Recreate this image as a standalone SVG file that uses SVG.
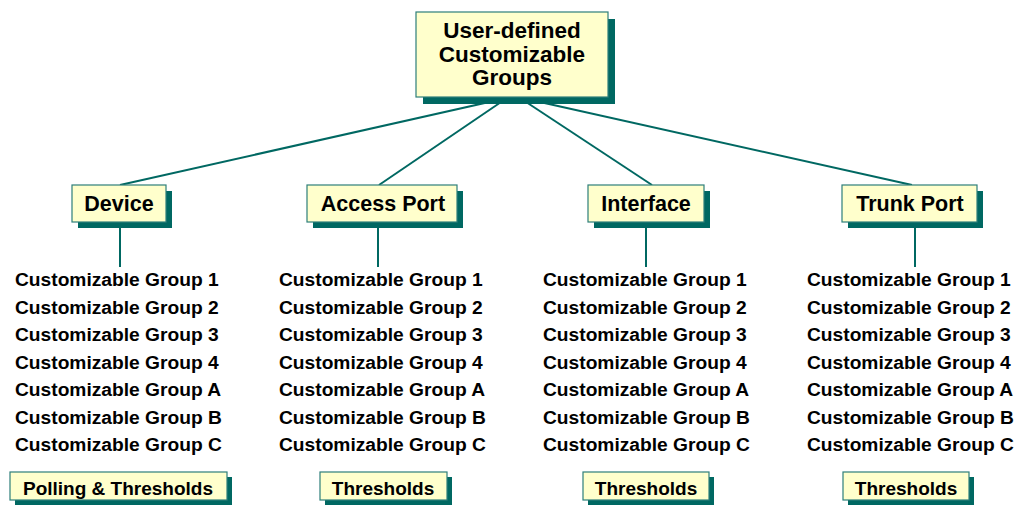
<svg xmlns="http://www.w3.org/2000/svg" width="1015" height="506" viewBox="0 0 1015 506">
  <style>
    .shadow { fill: #006862; }
    .box { fill: #FFFFCC; stroke: #2E7F7A; stroke-width: 1.2; }
    .lbl { font-family: "Liberation Sans", Arial, sans-serif; font-weight: bold; fill: #000; text-anchor: middle; }
    .title { font-size: 22.5px; }
    .cat { font-size: 21.5px; }
    .tag { font-size: 19px; }
    .list { font-family: "Liberation Sans", Arial, sans-serif; font-weight: bold; font-size: 19.2px; fill: #000; }
    .conn { stroke: #006862; stroke-width: 2; fill: none; }
  </style>
  <rect width="1015" height="506" fill="#ffffff"/>

  <!-- connectors -->
  <g id="connectors">
    <line class="conn" x1="507" y1="98" x2="120" y2="185"/>
    <line class="conn" x1="507" y1="98" x2="379" y2="185"/>
    <line class="conn" x1="520" y1="98" x2="652" y2="185"/>
    <line class="conn" x1="522" y1="98" x2="912" y2="185"/>
    <line class="conn" x1="120" y1="228" x2="120" y2="267"/>
    <line class="conn" x1="378" y1="228" x2="378" y2="267"/>
    <line class="conn" x1="646" y1="228" x2="646" y2="267"/>
    <line class="conn" x1="915" y1="228" x2="915" y2="267"/>
  </g>

  <!-- root -->
  <g id="root">
    <rect class="shadow" x="423" y="19" width="192" height="85"/>
    <rect class="box" x="416" y="12" width="192" height="85"/>
    <text class="lbl title" x="512" y="38">User-defined</text>
    <text class="lbl title" x="512" y="61.5">Customizable</text>
    <text class="lbl title" x="512" y="85">Groups</text>
  </g>

  <!-- categories -->
  <g id="device">
    <rect class="shadow" x="78" y="191" width="94" height="37"/>
    <rect class="box" x="72" y="185" width="94" height="37"/>
    <text class="lbl cat" x="119" y="211">Device</text>
  </g>
  <g id="access-port">
    <rect class="shadow" x="313" y="191" width="150" height="37"/>
    <rect class="box" x="307" y="185" width="150" height="37"/>
    <text class="lbl cat" x="383" y="211">Access Port</text>
  </g>
  <g id="interface">
    <rect class="shadow" x="594" y="191" width="116" height="37"/>
    <rect class="box" x="588" y="185" width="116" height="37"/>
    <text class="lbl cat" x="646" y="211">Interface</text>
  </g>
  <g id="trunk-port">
    <rect class="shadow" x="848" y="191" width="135" height="37"/>
    <rect class="box" x="842" y="185" width="135" height="37"/>
    <text class="lbl cat" x="910" y="211">Trunk Port</text>
  </g>

  <!-- group lists -->
  <g id="device-groups" class="list">
    <text x="15" y="286">Customizable Group 1</text>
    <text x="15" y="313.5">Customizable Group 2</text>
    <text x="15" y="341">Customizable Group 3</text>
    <text x="15" y="368.5">Customizable Group 4</text>
    <text x="15" y="396">Customizable Group A</text>
    <text x="15" y="423.5">Customizable Group B</text>
    <text x="15" y="451">Customizable Group C</text>
  </g>
  <g id="access-port-groups" class="list">
    <text x="279" y="286">Customizable Group 1</text>
    <text x="279" y="313.5">Customizable Group 2</text>
    <text x="279" y="341">Customizable Group 3</text>
    <text x="279" y="368.5">Customizable Group 4</text>
    <text x="279" y="396">Customizable Group A</text>
    <text x="279" y="423.5">Customizable Group B</text>
    <text x="279" y="451">Customizable Group C</text>
  </g>
  <g id="interface-groups" class="list">
    <text x="543" y="286">Customizable Group 1</text>
    <text x="543" y="313.5">Customizable Group 2</text>
    <text x="543" y="341">Customizable Group 3</text>
    <text x="543" y="368.5">Customizable Group 4</text>
    <text x="543" y="396">Customizable Group A</text>
    <text x="543" y="423.5">Customizable Group B</text>
    <text x="543" y="451">Customizable Group C</text>
  </g>
  <g id="trunk-port-groups" class="list">
    <text x="807" y="286">Customizable Group 1</text>
    <text x="807" y="313.5">Customizable Group 2</text>
    <text x="807" y="341">Customizable Group 3</text>
    <text x="807" y="368.5">Customizable Group 4</text>
    <text x="807" y="396">Customizable Group A</text>
    <text x="807" y="423.5">Customizable Group B</text>
    <text x="807" y="451">Customizable Group C</text>
  </g>

  <!-- threshold tags -->
  <g id="device-tag">
    <rect class="shadow" x="15" y="477" width="217" height="28"/>
    <rect class="box" x="10" y="472" width="217" height="28"/>
    <text class="lbl tag" x="118" y="495">Polling &amp; Thresholds</text>
  </g>
  <g id="access-port-tag">
    <rect class="shadow" x="325" y="477" width="127" height="28"/>
    <rect class="box" x="320" y="472" width="127" height="28"/>
    <text class="lbl tag" x="383" y="495">Thresholds</text>
  </g>
  <g id="interface-tag">
    <rect class="shadow" x="588" y="477" width="126" height="28"/>
    <rect class="box" x="583" y="472" width="126" height="28"/>
    <text class="lbl tag" x="646" y="495">Thresholds</text>
  </g>
  <g id="trunk-port-tag">
    <rect class="shadow" x="848" y="477" width="126" height="28"/>
    <rect class="box" x="843" y="472" width="126" height="28"/>
    <text class="lbl tag" x="906" y="495">Thresholds</text>
  </g>
</svg>
